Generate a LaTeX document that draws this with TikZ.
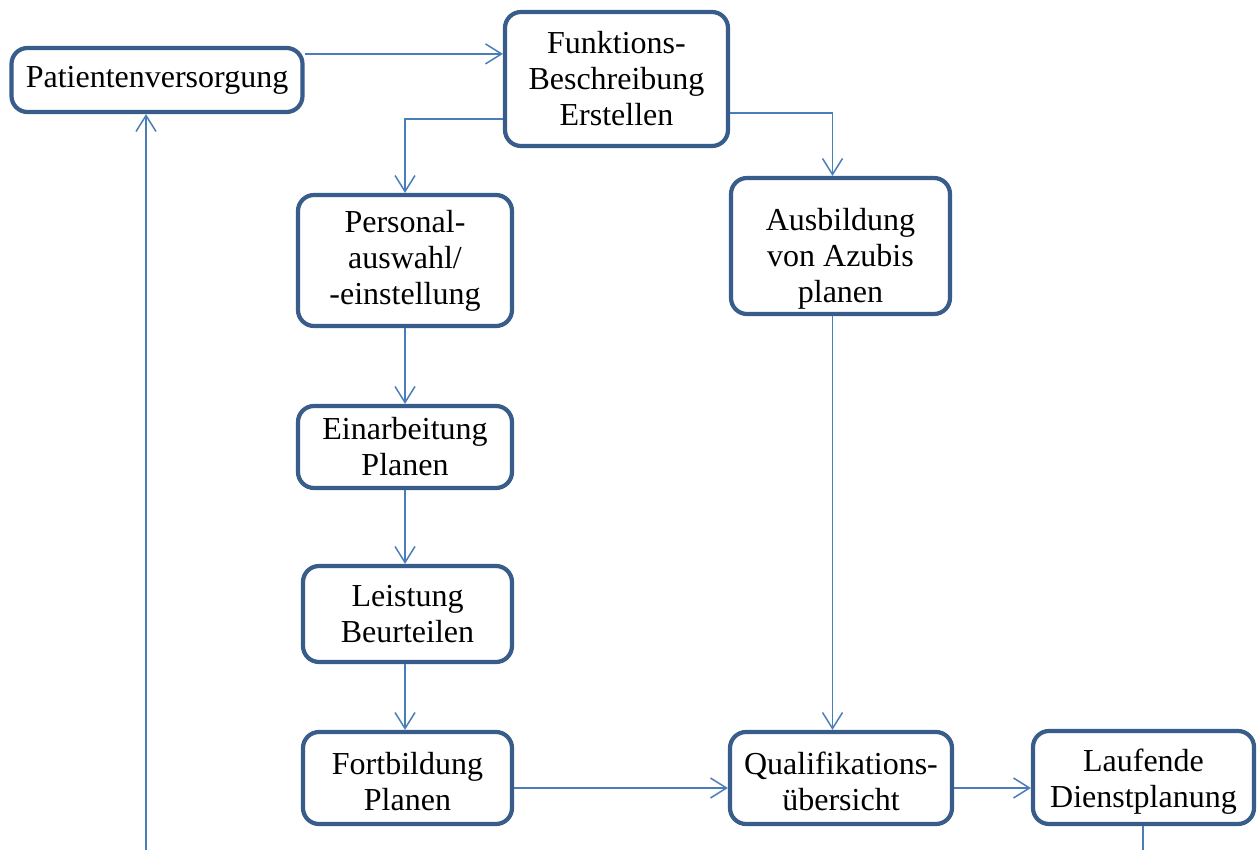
\documentclass[tikz,border=0pt]{standalone}
\usepackage{fontspec}
\setmainfont{Liberation Serif}
\usetikzlibrary{arrows.meta}

\definecolor{boxblue}{RGB}{56,93,138}
\definecolor{lineblue}{RGB}{74,126,187}

\tikzset{
	box/.style={draw=boxblue, line width=2.1pt, rounded corners=8pt, fill=white,
		align=center, inner sep=2pt, font=\fontsize{16}{18}\selectfont},
	lowtext/.style={text height=#1, inner ysep=0pt},
	link/.style={draw=lineblue, line width=0.75pt,
		-{Straight Barb[length=8pt,width=10pt,line width=0.75pt]}},
	plain/.style={draw=lineblue, line width=0.75pt}
}

\begin{document}
\begin{tikzpicture}[x=0.5pt,y=-0.5pt]
		\useasboundingbox (0,0) rectangle (1258,850);
		%\draw[help lines] (0,0) grid[step=50] (1258,850);

		\node[box, minimum width=145.5pt, minimum height=32pt] (pat) at (157,80) {Patientenversorgung};
		\node[box, minimum width=111.5pt, minimum height=67pt] (fkt) at (616.5,79) {Funktions-\\Beschreibung\\Erstellen};
		\node[box, minimum width=107pt, minimum height=65.5pt] (pers) at (405,260.5) {Personal-\\auswahl/\\-einstellung};
		\node[box, lowtext=60pt, minimum width=109.5pt, minimum height=68pt] (azubi) at (840.5,246) {Ausbildung\\von Azubis\\planen};
		\node[box, minimum width=107pt, minimum height=41pt] (einarb) at (405,447) {Einarbeitung\\Planen};
		\node[box, minimum width=104.5pt, minimum height=48pt] (leist) at (407.5,614) {Leistung\\Beurteilen};
		\node[box, lowtext=33pt, minimum width=104.5pt, minimum height=46pt] (fort) at (407.5,778) {Fortbildung\\Planen};
		\node[box, lowtext=33pt, minimum width=111pt, minimum height=46pt] (quali) at (841,778) {Qualifikations-\\übersicht};
		\node[box, lowtext=33pt, minimum width=110.5pt, minimum height=46.5pt] (dienst) at (1143.5,777.5) {Laufende\\Dienstplanung};

		\coordinate (a1) at ([yshift=-4pt]pat.north east);
		\coordinate (a2) at ([yshift=-20pt]fkt.west);
		\coordinate (a3) at ([yshift=-17pt]fkt.east);
		\coordinate (a4) at ([xshift=-4pt]azubi.north);
		\coordinate (a5) at ([xshift=-4pt]azubi.south);
		\coordinate (a6) at ([yshift=-5pt]fort.east);
		\coordinate (a7) at ([yshift=-5pt]quali.east);
		\coordinate (out) at (1143,850);
		\coordinate (in) at (146,850);

		\draw[link] (a1) -- (a1 -| fkt.west);
		\draw[link] (a2) -| (pers.north);
		\draw[link] (a3) -| (a4);

		\draw[link] (pers.south) -- (pers.south |- einarb.north);
		\draw[link] (einarb.south) -- (einarb.south |- leist.north);
		\draw[link] (einarb.south |- leist.south) -- (einarb.south |- fort.north);
		\draw[link] (a5) -- (a5 |- quali.north);

		\draw[link] (a6) -- (a6 -| quali.west);
		\draw[link] (a7) -- (a7 -| dienst.west);

		\draw[plain] (out |- dienst.south) -- (out);
		\draw[link] (in) -- (in |- pat.south);
	\end{tikzpicture}
\end{document}
